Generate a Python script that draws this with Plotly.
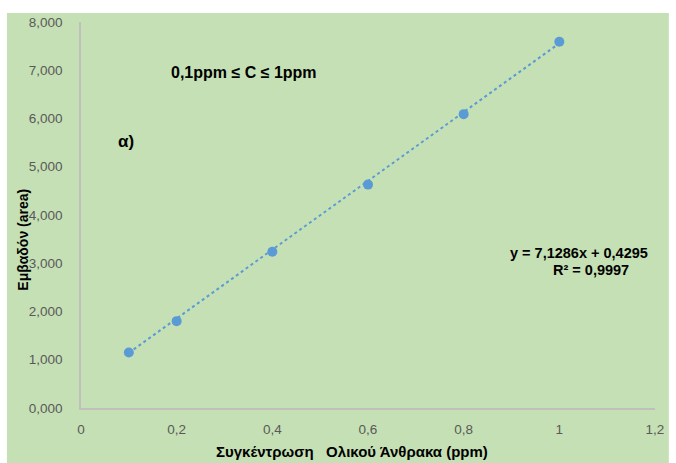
import plotly.graph_objects as go

# Calibration data: total carbon concentration vs. peak area
conc_ppm = [0.1, 0.2, 0.4, 0.6, 0.8, 1.0]
area = [1.15, 1.80, 3.24, 4.63, 6.09, 7.59]

# Linear trendline coefficients
slope = 7.1286
intercept = 0.4295
r_squared = 0.9997

x_ticks = [0, 0.2, 0.4, 0.6, 0.8, 1.0, 1.2]
y_ticks = [0, 1, 2, 3, 4, 5, 6, 7, 8]

BG = "#c5e0b4"
BLUE = "#5b9bd5"
AXIS = "#bfbfbf"
TICK = "#595959"
FONT = "Liberation Sans Narrow, Liberation Sans, Arial"

W, H = 676, 463
L, R, T, B = 81, 14, 22, 55
pw, ph = W - L - R, H - T - B

trend_x = [conc_ppm[0], conc_ppm[-1]]
trend_y = [slope * x + intercept for x in trend_x]

fig = go.Figure()
fig.add_trace(go.Scatter(
    x=trend_x, y=trend_y, mode="lines",
    line=dict(color=BLUE, width=2, dash="dot"),
    hoverinfo="skip", showlegend=False,
))
fig.add_trace(go.Scatter(
    x=conc_ppm, y=area, mode="markers",
    marker=dict(color=BLUE, size=10),
    showlegend=False,
))

# green chart area with white strips on top and left
fig.add_shape(
    type="rect", xref="paper", yref="paper", layer="below",
    x0=(6 - L) / pw, x1=(W - L) / pw,
    y0=(T + ph - H) / ph, y1=(T + ph - 13) / ph,
    fillcolor=BG, line=dict(width=0),
)

def px_x(p):
    return (p - L) / pw

def px_y(p):
    return (T + ph - p) / ph

annotations = [
    dict(text="<b>0,1ppm ≤ C ≤ 1ppm</b>", x=px_x(246), y=px_y(72), size=16),
    dict(text="<b>α)</b>", x=px_x(127), y=px_y(141), size=17),
    dict(text=f"<b>y = {str(slope).replace('.', ',')}x + {str(intercept).replace('.', ',')}</b>",
         x=px_x(585), y=px_y(253), size=14.5),
    dict(text=f"<b>R² = {str(r_squared).replace('.', ',')}</b>",
         x=px_x(597), y=px_y(270), size=14.5),
    dict(text="<b>Συγκέντρωση   Ολικού Άνθρακα (ppm)</b>",
         x=px_x(355), y=px_y(451), size=15),
]
for a in annotations:
    fig.add_annotation(
        text=a["text"], x=a["x"], y=a["y"], xref="paper", yref="paper",
        showarrow=False, xanchor="center", yanchor="middle",
        font=dict(family=FONT, size=a["size"], color="#000000"),
    )
fig.add_annotation(
    text="<b>Εμβαδόν (area)</b>", x=px_x(22), y=px_y(240),
    xref="paper", yref="paper", showarrow=False, textangle=-90,
    xanchor="center", yanchor="middle",
    font=dict(family=FONT, size=14, color="#000000"),
)

fig.update_layout(
    width=W, height=H,
    margin=dict(l=L, r=R, t=T, b=B),
    paper_bgcolor="white", plot_bgcolor="rgba(0,0,0,0)",
    separators=",.",
    font=dict(family=FONT, size=13, color=TICK),
    xaxis=dict(
        range=[0, 1.2], tickvals=x_ticks, showgrid=False, zeroline=False,
        showline=True, linecolor=AXIS, linewidth=1.5,
        ticks="", ticklabelstandoff=8,
        tickfont=dict(family=FONT, size=13.5, color=TICK),
    ),
    yaxis=dict(
        range=[0, 8], tickvals=y_ticks, tickformat=".3f", showgrid=False,
        zeroline=False, showline=True, linecolor=AXIS, linewidth=1.5,
        ticks="", ticklabelstandoff=14,
        tickfont=dict(family=FONT, size=13.5, color=TICK),
    ),
)

fig.write_html("out.html")
